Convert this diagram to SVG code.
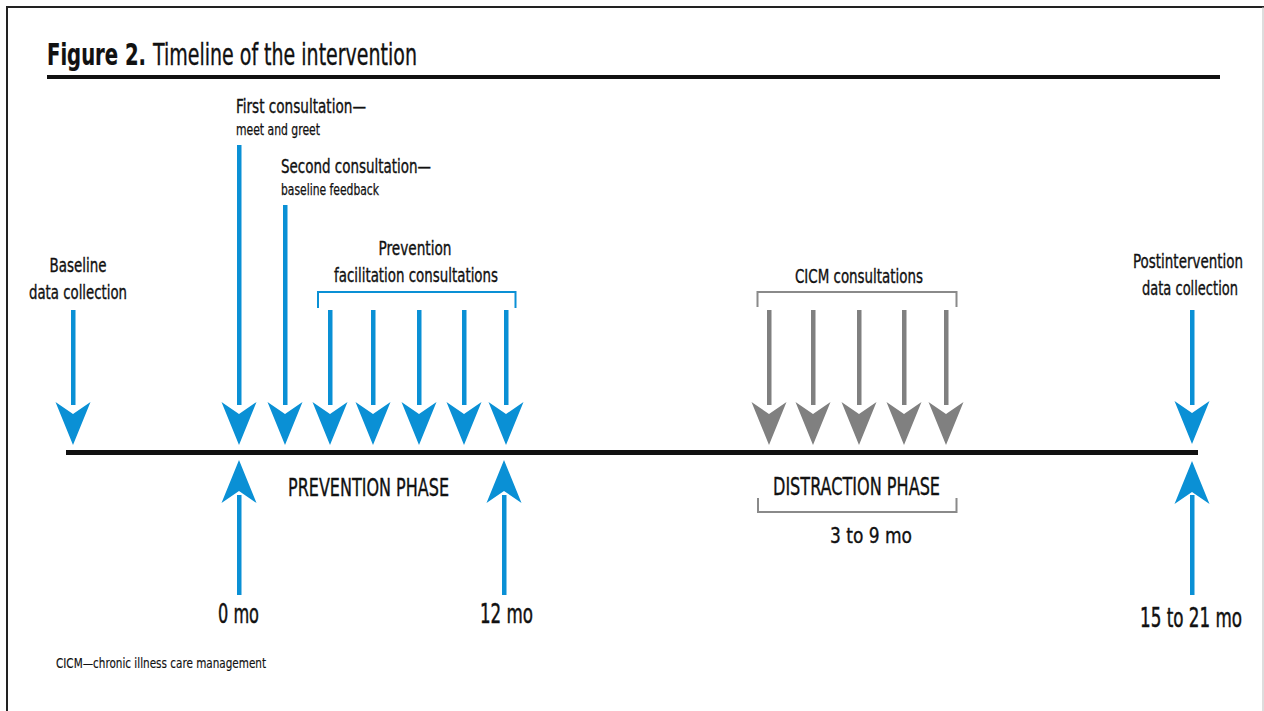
<svg xmlns="http://www.w3.org/2000/svg" xmlns:xlink="http://www.w3.org/1999/xlink" width="1264" height="711" viewBox="0 0 1264 711">
  <style>
    text { font-family: "Liberation Sans Narrow", "DejaVu Sans Condensed", "Liberation Sans", sans-serif; fill: #111; stroke: #111; stroke-width: 0.35px; }
    .title { font-size: 30px; }
    .bold { font-weight: bold; stroke-width: 0.2px; }
    .lbl { font-size: 19px; }
    .sub { font-size: 15px; stroke-width: 0.25px; }
    .phase { font-size: 24px; }
    .mo { font-size: 26px; stroke-width: 0.45px; }
    .note { font-size: 14px; stroke-width: 0.15px; }
    .blue { fill: #0a90d5; }
    .gray { fill: #808080; }
  </style>
  <defs>
    <!-- downward arrowhead with notched back, tip at origin -->
    <path id="headDown" d="M0,0 L-17.5,-43 L0,-31 L17.5,-43 Z"/>
    <path id="headUp" d="M0,0 L-17.5,43 L0,31 L17.5,43 Z"/>
  </defs>

  <!-- frame -->
  <g id="frame">
    <rect x="0" y="0" width="1264" height="711" fill="#fff"/>
    <line x1="7" y1="7" x2="1264" y2="7" stroke="#222" stroke-width="2"/>
    <line x1="7" y1="6" x2="7" y2="711" stroke="#222" stroke-width="2"/>
    <line x1="1263" y1="7" x2="1263" y2="711" stroke="#bbb" stroke-width="1"/>
  </g>

  <!-- heading -->
  <g id="title">
    <text class="title bold" x="47" y="65" textLength="99" lengthAdjust="spacingAndGlyphs">Figure 2.</text>
    <text class="title" x="153" y="65" textLength="264" lengthAdjust="spacingAndGlyphs">Timeline of the intervention</text>
    <rect x="47" y="75" width="1173" height="4" fill="#111"/>
  </g>

  <!-- time axis -->
  <g id="timeline">
    <rect x="66" y="450" width="1132" height="5" fill="#111"/>
  </g>

  <g id="connectors">
    <!-- blue downward arrows -->
    <g class="blue">
      <rect x="71" y="310" width="4.5" height="95"/>
      <use xlink:href="#headDown" transform="translate(73,445)"/>
      <rect x="237" y="145" width="4.5" height="260"/>
      <use xlink:href="#headDown" transform="translate(239,445)"/>
      <rect x="283" y="205" width="4.5" height="200"/>
      <use xlink:href="#headDown" transform="translate(285,445)"/>
      <rect x="328" y="310" width="4.5" height="95"/>
      <use xlink:href="#headDown" transform="translate(330,445)"/>
      <rect x="371" y="310" width="4.5" height="95"/>
      <use xlink:href="#headDown" transform="translate(373,445)"/>
      <rect x="417" y="310" width="4.5" height="95"/>
      <use xlink:href="#headDown" transform="translate(419,445)"/>
      <rect x="462" y="310" width="4.5" height="95"/>
      <use xlink:href="#headDown" transform="translate(464,445)"/>
      <rect x="504" y="310" width="4.5" height="95"/>
      <use xlink:href="#headDown" transform="translate(506,445)"/>
      <rect x="1190" y="310" width="4.5" height="95"/>
      <use xlink:href="#headDown" transform="translate(1192,444)"/>
      <!-- upward arrows -->
      <rect x="237" y="495" width="4.5" height="100"/>
      <use xlink:href="#headUp" transform="translate(239,460)"/>
      <rect x="502" y="495" width="4.5" height="100"/>
      <use xlink:href="#headUp" transform="translate(504,460)"/>
      <rect x="1190" y="495" width="4.5" height="100"/>
      <use xlink:href="#headUp" transform="translate(1192,461)"/>
    </g>
    <!-- gray downward arrows -->
    <g class="gray">
      <rect x="767" y="310" width="4.5" height="95"/>
      <use xlink:href="#headDown" transform="translate(769,445)"/>
      <rect x="811" y="310" width="4.5" height="95"/>
      <use xlink:href="#headDown" transform="translate(813,445)"/>
      <rect x="857" y="310" width="4.5" height="95"/>
      <use xlink:href="#headDown" transform="translate(859,445)"/>
      <rect x="902" y="310" width="4.5" height="95"/>
      <use xlink:href="#headDown" transform="translate(904,445)"/>
      <rect x="944" y="310" width="4.5" height="95"/>
      <use xlink:href="#headDown" transform="translate(946,445)"/>
    </g>
  </g>

  <g id="baseline-collection">
    <text class="lbl" x="78" y="272" text-anchor="middle" textLength="57" lengthAdjust="spacingAndGlyphs">Baseline</text>
    <text class="lbl" x="78" y="299" text-anchor="middle" textLength="98" lengthAdjust="spacingAndGlyphs">data collection</text>
  </g>

  <g id="first-consultation">
    <text class="lbl" x="236" y="113" textLength="130" lengthAdjust="spacingAndGlyphs">First consultation—</text>
    <text class="sub" x="236" y="135" textLength="84" lengthAdjust="spacingAndGlyphs">meet and greet</text>
  </g>

  <g id="second-consultation">
    <text class="lbl" x="281" y="173" textLength="150" lengthAdjust="spacingAndGlyphs">Second consultation—</text>
    <text class="sub" x="281" y="195" textLength="98" lengthAdjust="spacingAndGlyphs">baseline feedback</text>
  </g>

  <g id="prevention-consultations">
    <text class="lbl" x="415" y="255" text-anchor="middle" textLength="73" lengthAdjust="spacingAndGlyphs">Prevention</text>
    <text class="lbl" x="416" y="282" text-anchor="middle" textLength="164" lengthAdjust="spacingAndGlyphs">facilitation consultations</text>
    <path d="M318,308 V292 H515.5 V308" fill="none" stroke="#0a90d5" stroke-width="2"/>
  </g>

  <g id="cicm-consultations">
    <text class="lbl" x="859" y="283" text-anchor="middle" textLength="128" lengthAdjust="spacingAndGlyphs">CICM consultations</text>
    <path d="M757.5,307 V292 H956.5 V307" fill="none" stroke="#8a8a8a" stroke-width="2"/>
  </g>

  <g id="postintervention">
    <text class="lbl" x="1188" y="268" text-anchor="middle" textLength="110" lengthAdjust="spacingAndGlyphs">Postintervention</text>
    <text class="lbl" x="1190" y="295" text-anchor="middle" textLength="96" lengthAdjust="spacingAndGlyphs">data collection</text>
  </g>

  <g id="prevention-phase">
    <text class="phase" x="288" y="496" textLength="161" lengthAdjust="spacingAndGlyphs">PREVENTION PHASE</text>
  </g>

  <g id="distraction-phase">
    <text class="phase" x="773" y="495" textLength="167" lengthAdjust="spacingAndGlyphs">DISTRACTION PHASE</text>
    <path d="M758,498 V512 H956.5 V498" fill="none" stroke="#8a8a8a" stroke-width="2"/>
    <text class="lbl" x="830" y="543" textLength="82" lengthAdjust="spacingAndGlyphs" style="font-size:22px">3 to 9 mo</text>
  </g>

  <g id="month-0">
    <text class="mo" x="218" y="623" textLength="41" lengthAdjust="spacingAndGlyphs">0 mo</text>
  </g>
  <g id="month-12">
    <text class="mo" x="480" y="623" textLength="53" lengthAdjust="spacingAndGlyphs">12 mo</text>
  </g>
  <g id="month-15-21">
    <text class="mo" x="1140" y="627" textLength="102" lengthAdjust="spacingAndGlyphs">15 to 21 mo</text>
  </g>

  <g id="footnote">
    <text class="note" x="56" y="668" textLength="210" lengthAdjust="spacingAndGlyphs">CICM—chronic illness care management</text>
  </g>
</svg>
